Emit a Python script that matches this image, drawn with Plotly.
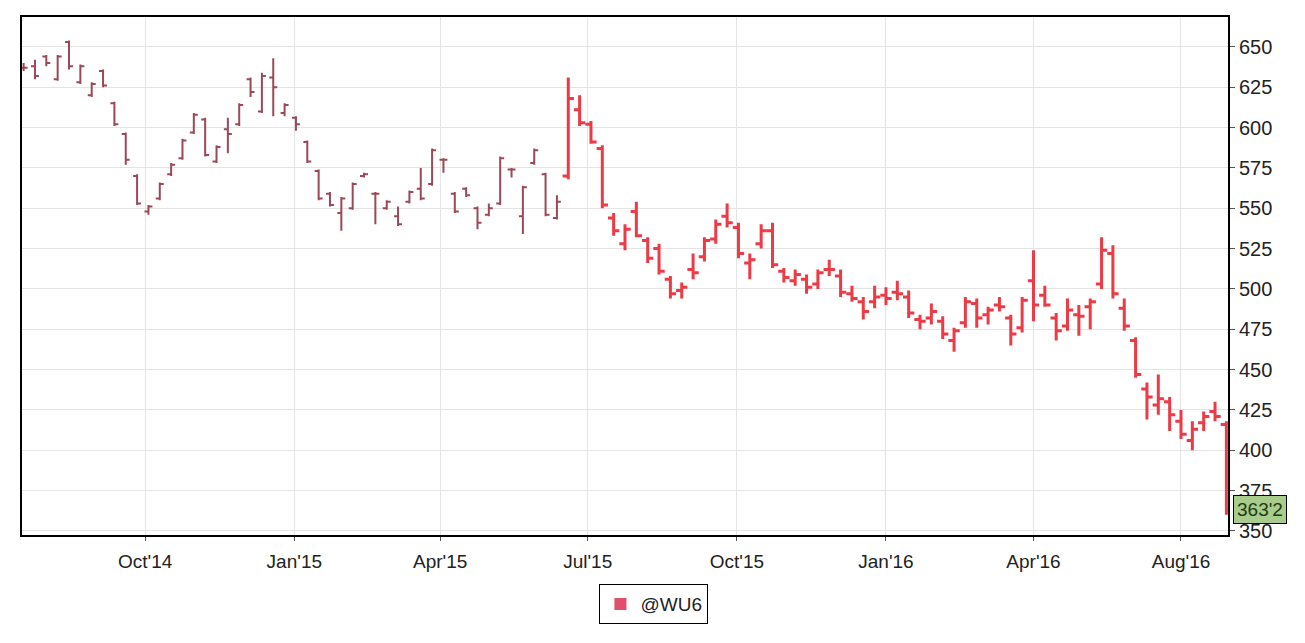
import pandas as pd
import plotly.graph_objects as go

# Weekly bars (@WU6)
first_week = "2014-07-18"
open_ = [637, 638, 644, 630, 653, 628, 620, 635, 615, 596,
         570, 548, 556, 571, 581, 597, 605, 579, 599, 602,
         630, 610, 631, 609, 606, 591, 573, 559, 547, 550,
         570, 559, 550, 545, 554, 562, 565, 580, 559, 562,
         550, 546, 553, 574, 545, 578, 571, 544, 570, 611,
         602, 587, 544, 528, 548, 530, 525, 506, 499, 512,
         520, 531, 545, 538, 516, 528, 536, 511, 505, 506,
         503, 512, 508, 497, 492, 492, 496, 498, 495, 481,
         482, 480, 468, 479, 491, 484, 490, 482, 476, 505,
         496, 482, 477, 484, 489, 503, 522, 488, 468, 438,
         428, 430, 418, 406, 417, 424, 416]
high = [640, 642, 645, 645, 654, 639, 628, 636, 616, 597,
        571, 552, 566, 578, 593, 609, 606, 589, 606, 615,
        631, 634, 643, 615, 607, 592, 574, 560, 557, 566,
        572, 560, 555, 551, 561, 575, 587, 581, 560, 563,
        551, 553, 582, 575, 564, 587, 572, 558, 631, 620,
        604, 589, 547, 540, 554, 532, 528, 508, 504, 522,
        532, 543, 553, 541, 522, 540, 541, 513, 512, 509,
        512, 518, 512, 502, 495, 502, 501, 505, 499, 484,
        491, 483, 476, 495, 494, 489, 495, 484, 495, 524,
        502, 485, 494, 490, 494, 532, 527, 494, 470, 442,
        447, 433, 425, 418, 424, 430, 418]
low = [635, 630, 638, 629, 636, 627, 619, 625, 601, 577,
       552, 546, 555, 570, 580, 596, 582, 578, 584, 601,
       619, 609, 607, 607, 598, 578, 555, 551, 536, 549,
       569, 540, 549, 539, 553, 555, 564, 572, 547, 557,
       537, 545, 552, 569, 534, 577, 545, 543, 568, 601,
       590, 550, 533, 524, 532, 516, 509, 494, 494, 506,
       517, 528, 538, 519, 506, 525, 513, 504, 502, 497,
       500, 508, 495, 492, 481, 488, 490, 493, 482, 475,
       478, 469, 461, 476, 476, 478, 486, 465, 473, 480,
       489, 468, 474, 471, 475, 500, 494, 474, 445, 419,
       422, 412, 407, 400, 412, 418, 360]
close = [637, 632, 640, 644, 638, 638, 627, 626, 602, 580,
         553, 551, 565, 577, 592, 608, 583, 588, 596, 614,
         622, 632, 625, 614, 602, 579, 556, 552, 556, 565,
         571, 559, 554, 540, 560, 556, 586, 580, 548, 558,
         541, 550, 581, 574, 563, 586, 546, 554, 618, 603,
         591, 552, 536, 537, 533, 519, 511, 497, 501, 510,
         530, 540, 541, 522, 518, 536, 515, 507, 509, 501,
         510, 512, 498, 494, 486, 495, 494, 497, 485, 480,
         486, 472, 474, 492, 482, 487, 489, 472, 493, 490,
         490, 474, 487, 483, 492, 524, 497, 477, 447, 433,
         432, 422, 410, 413, 421, 421, 363.25]

# thinly traded period (sparse dashes) ends here; active trading afterwards
thin_until = "2015-06-12"

tick_dates = ["2014-10-01", "2015-01-01", "2015-04-01", "2015-07-01",
              "2015-10-01", "2016-01-01", "2016-04-01", "2016-07-01"]
tick_labels = ["Oct'14", "Jan'15", "Apr'15", "Jul'15",
               "Oct'15", "Jan'16", "Apr'16", "Aug'16"]
y_ticks = [350, 375, 400, 425, 450, 475, 500, 525, 550, 575, 600, 625, 650]
series_name = "@WU6"
last_label = "363'2"

df = pd.DataFrame({"date": pd.date_range(first_week, periods=len(close), freq="7D"),
                   "open": open_, "high": high, "low": low, "close": close})
thin = df[df["date"] <= thin_until]
active = df[df["date"] > thin_until]

FONT = "Liberation Sans, Arial, sans-serif"
RED = "#ee3a45"
DARK = "#9c4858"

fig = go.Figure()
fig.add_trace(go.Ohlc(
    x=thin["date"], open=thin["open"], high=thin["high"], low=thin["low"], close=thin["close"],
    increasing=dict(line=dict(color=DARK, width=2)),
    decreasing=dict(line=dict(color=DARK, width=2)),
    tickwidth=0.35, showlegend=False, name=series_name,
))
fig.add_trace(go.Ohlc(
    x=active["date"], open=active["open"], high=active["high"], low=active["low"],
    close=active["close"],
    increasing=dict(line=dict(color=RED, width=3)),
    decreasing=dict(line=dict(color=RED, width=3)),
    tickwidth=0.5, showlegend=False, name=series_name,
))
# legend entry
fig.add_trace(go.Scatter(
    x=[None], y=[None], mode="markers", name=series_name,
    marker=dict(symbol="square", size=8, color="#e0506a"),
))

# the page body adds an 8px offset; figure is sized to fill the rest
fig.update_layout(
    width=1297, height=635,
    margin=dict(l=14, r=77, t=7, b=108),
    paper_bgcolor="white", plot_bgcolor="white",
    font=dict(family=FONT, size=18, color="#222"),
    showlegend=True,
    legend=dict(
        orientation="h", x=0.524, xanchor="center", y=-0.095, yanchor="top",
        bordercolor="black", borderwidth=1, bgcolor="white",
        font=dict(family=FONT, size=19, color="#222"),
        itemsizing="constant", itemwidth=30,
    ),
    xaxis=dict(
        type="date", range=["2014-07-17", "2016-07-30"],
        rangeslider=dict(visible=False),
        tickvals=tick_dates, ticktext=tick_labels,
        showgrid=True, gridcolor="#e4e4e4", gridwidth=1,
        showline=True, linecolor="black", linewidth=2, mirror=True,
        ticks="outside", ticklen=4, tickcolor="#555",
        ticklabelstandoff=4,
        tickfont=dict(family=FONT, size=19, color="#222"),
        zeroline=False,
    ),
    yaxis=dict(
        side="right", range=[347.5, 668.5],
        tickvals=y_ticks,
        showgrid=True, gridcolor="#e4e4e4", gridwidth=1,
        showline=True, linecolor="black", linewidth=2, mirror=True,
        ticks="outside", ticklen=5, tickcolor="#555",
        tickfont=dict(family=FONT, size=20, color="#222"),
        zeroline=False,
    ),
)

# last value label
fig.add_annotation(
    xref="paper", x=1.004, xanchor="left",
    yref="y", y=close[-1], yanchor="middle",
    text=last_label, showarrow=False,
    font=dict(family=FONT, size=19, color="#1e3a10"),
    bgcolor="#a7cc8c", bordercolor="black", borderwidth=1, borderpad=3,
)

fig.write_html("out.html")
